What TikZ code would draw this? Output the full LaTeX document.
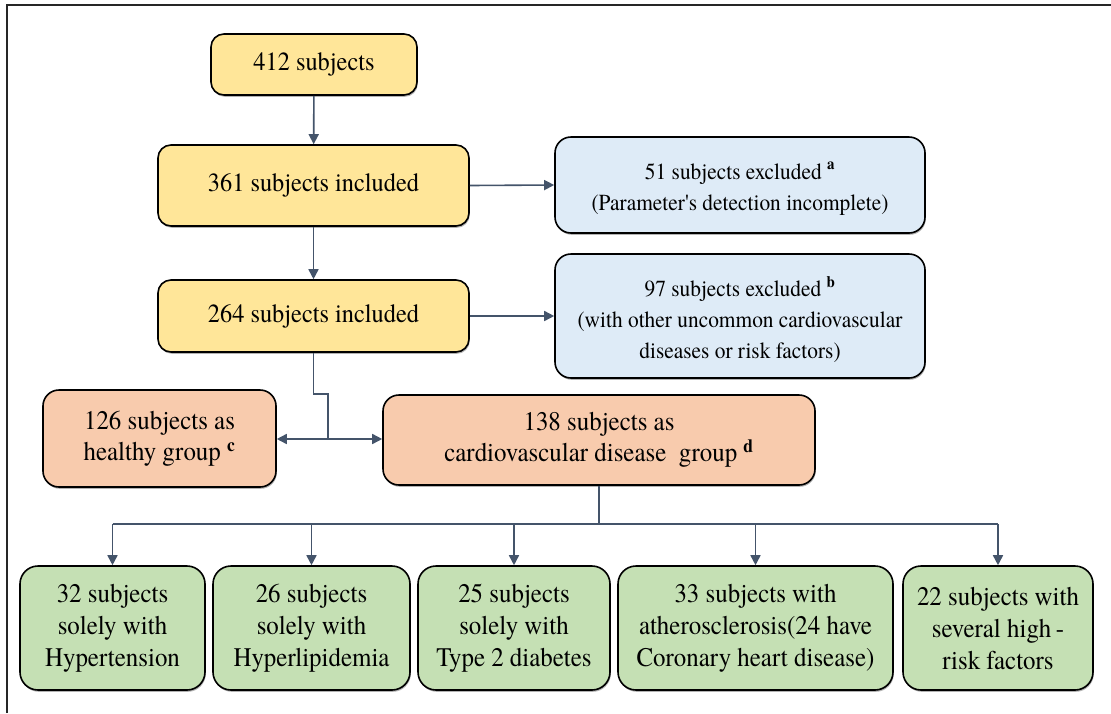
\documentclass[tikz,border=0pt]{standalone}
\usepackage{fontspec}
\setmainfont{texgyretermes}[Extension=.otf, UprightFont=*-regular, BoldFont=*-bold,
  ItalicFont=*-italic, BoldItalicFont=*-bolditalic, FakeStretch=0.93]
% same face without TeX ligature mapping, for a straight apostrophe
\newfontfamily\rawtermes{texgyretermes-regular.otf}[FakeStretch=0.93]
\usetikzlibrary{arrows.meta,shadows,calc}

\definecolor{linkC}{HTML}{44546A}
\definecolor{yellowF}{HTML}{FFE699}
\definecolor{blueF}{HTML}{DEEBF7}
\definecolor{salmonF}{HTML}{F8CBAD}
\definecolor{greenF}{HTML}{C5E0B4}

\newcommand{\supmark}[1]{\textsuperscript{\textbf{#1}}}
\newcommand{\apos}{{\rawtermes '}}
\newcommand{\toproom}[1]{\rule{0pt}{#1pt}}

\begin{document}
\begin{tikzpicture}[x=1pt,y=-1pt,
  box/.style={draw=black, line width=1.6pt, rounded corners=13pt, align=center,
    inner sep=0pt,
    drop shadow={shadow xshift=0.8pt, shadow yshift=-1.8pt, fill=black, opacity=0.3}},
  yellowbox/.style={box, fill=yellowF, font=\fontsize{26.2}{31}\selectfont},
  bluebox/.style={box, fill=blueF, rounded corners=16pt, font=\fontsize{23}{31}\selectfont},
  salmonbox/.style={box, fill=salmonF, rounded corners=16pt, font=\fontsize{26.8}{31}\selectfont},
  greenbox/.style={box, fill=greenF, rounded corners=18pt, font=\fontsize{26.8}{32}\selectfont,
    minimum height=124pt},
  link/.style={draw=linkC, line width=1.6pt},
  arrow/.style={link, -{Triangle[length=10pt,width=10pt]}},
  twoway/.style={link, {Triangle[length=10pt,width=10pt]}-{Triangle[length=10pt,width=10pt]}}
]
\useasboundingbox (0,0) rectangle (1111,713);
\fill[white] (0,0) rectangle (1111,713);

% outer frame (left and top edges)
\draw[line width=2.6pt, black!85] (7,713) -- (7,5) -- (1111,5);

% screening stages
\node[yellowbox, minimum width=206pt, minimum height=61pt] (all) at (314,64.5) {412 subjects};
\node[yellowbox, minimum width=311pt, minimum height=81pt] (inc1) at (313.5,185.5) {361 subjects included};
\node[yellowbox, minimum width=311pt, minimum height=72pt] (inc2) at (313.5,316) {264 subjects included};

% exclusions
\node[bluebox, minimum width=370pt, minimum height=96pt] (exa) at (740,185)
  {\toproom{24}51 subjects excluded \supmark{a}\\(Parameter\apos s detection incomplete)};
\node[bluebox, minimum width=370pt, minimum height=124pt] (exb) at (740,316)
  {\toproom{28}97 subjects excluded \supmark{b}\\(with other uncommon cardiovascular\\diseases or risk factors)};

% study groups
\node[salmonbox, minimum width=233pt, minimum height=97pt] (healthy) at (159.5,438.5)
  {126 subjects as\\healthy group \supmark{c}};
\node[salmonbox, minimum width=432pt, minimum height=90pt] (cvd) at (599,440)
  {138 subjects as\\cardiovascular disease~ group \supmark{d}};

% disease subgroups
\node[greenbox, minimum width=185pt] (g1) at (112.5,628) {32 subjects\\solely with\\Hypertension};
\node[greenbox, minimum width=197pt] (g2) at (311.5,628) {26 subjects\\solely with\\Hyperlipidemia};
\node[greenbox, minimum width=192pt] (g3) at (514,628) {25 subjects\\solely with\\Type 2 diabetes};
\node[greenbox, minimum width=275pt] (g4) at (755.5,628) {33 subjects with\\atherosclerosis(24 have\\Coronary heart disease)};
\node[greenbox, minimum width=190pt] (g5) at (998,628) {22 subjects with\\several high\thinspace-\\risk factors};

% main flow
\draw[arrow] (all) -- (inc1);
\draw[arrow] (inc1) -- (inc2);
\draw[arrow] (inc1.east) -- (exa.west);
\draw[arrow] (inc2.east) -- (exb.west |- inc2.east);

% split into healthy and disease groups
\coordinate (split) at (328,439);
\draw[link] (inc2.south) -- ++(0,41) -| (split);
\draw[twoway] (split -| healthy.east) -- (split -| cvd.west);

% branch to disease subgroups
\coordinate (bus) at (599,524);
\draw[link] (cvd.south) -- (bus);
\draw[link] (bus -| g1.north) -- (bus -| g5.north);
\foreach \g in {g1,g2,g3,g4,g5}
  \draw[arrow] (bus -| \g.north) -- (\g.north);
\end{tikzpicture}
\end{document}
